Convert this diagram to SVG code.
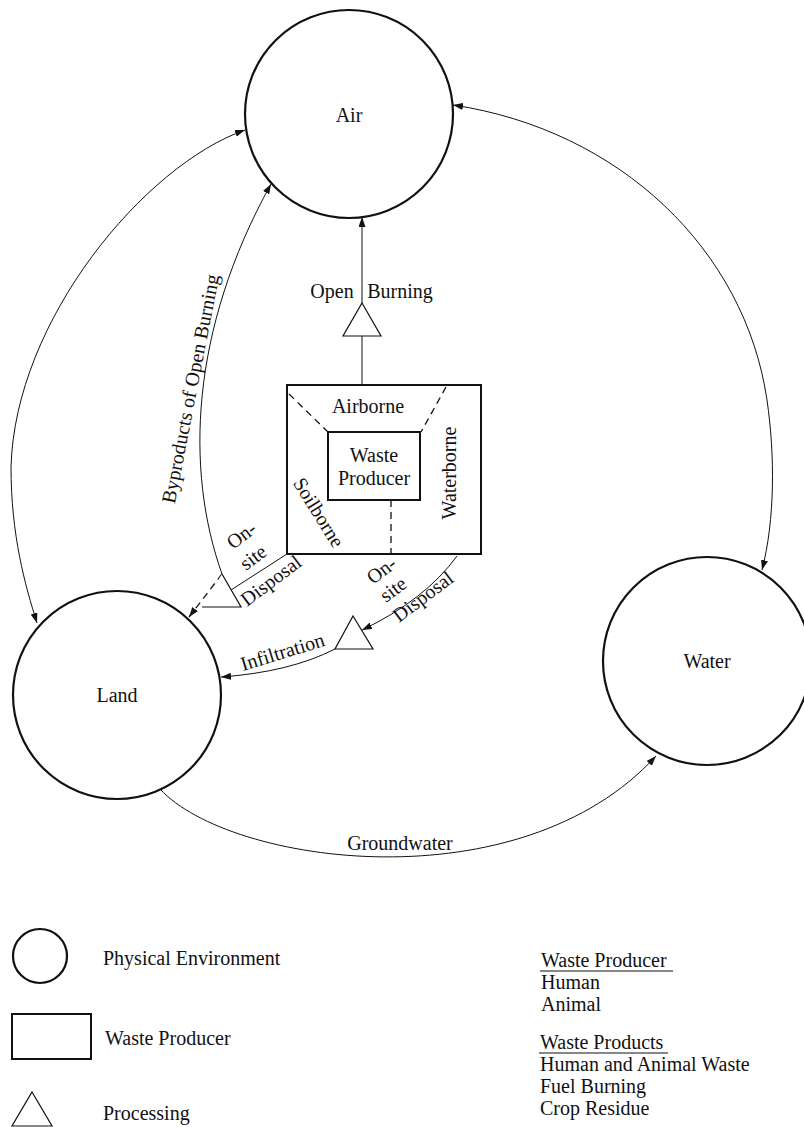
<svg xmlns="http://www.w3.org/2000/svg" width="804" height="1127" viewBox="0 0 804 1127">
<style>
text{font-family:"Liberation Serif","Times New Roman",serif;font-size:20px;fill:#111}
.env{fill:#fff;stroke:#111;stroke-width:2.2}
.box{fill:#fff;stroke:#111;stroke-width:2}
.tri{fill:#fff;stroke:#111;stroke-width:1.2}
.c{fill:none;stroke:#111;stroke-width:1}
.d{fill:none;stroke:#111;stroke-width:1.3;stroke-dasharray:7 5}
.m{text-anchor:middle}
</style>
<defs>
<marker id="ah" viewBox="0 0 10 7" refX="10" refY="3.5" markerWidth="10" markerHeight="7" markerUnits="userSpaceOnUse" orient="auto-start-reverse">
<path d="M0,0 L10,3.5 L0,7 z" fill="#111"/>
</marker>
</defs>

<g id="connectors">
<path class="c" d="M245,130 C145,165 15,320 11,467 C11,535 25,585 37,623" marker-start="url(#ah)" marker-end="url(#ah)"/>
<path class="c" d="M453,105 C620,130 745,250 767,400 C775,455 775,520 762,570" marker-start="url(#ah)" marker-end="url(#ah)"/>
<path class="c" d="M160,789 C230,865 520,905 656,756" marker-end="url(#ah)"/>
<path class="c" d="M222,574 C185,470 190,330 271,184" marker-end="url(#ah)"/>
<line class="c" x1="362" y1="303" x2="362" y2="217" marker-end="url(#ah)"/>
<line class="c" x1="362" y1="385" x2="362" y2="336"/>
<line class="c" x1="287" y1="554" x2="231" y2="590"/>
<path class="c" d="M457,556 Q425,600 362,630" marker-end="url(#ah)"/>
<path class="c" d="M335,649 Q290,672 221,677" marker-end="url(#ah)"/>
<line class="d" x1="222" y1="574" x2="189" y2="617" marker-end="url(#ah)"/>
</g>

<g id="air"><circle class="env" cx="349" cy="114" r="104"/><text class="m" x="349" y="122">Air</text></g>
<g id="land"><circle class="env" cx="117" cy="695" r="104"/><text class="m" x="117" y="702">Land</text></g>
<g id="water"><circle class="env" cx="707" cy="661" r="104"/><text class="m" x="707" y="668">Water</text></g>

<g id="producer">
<rect class="box" x="287" y="385" width="194" height="169"/>
<line class="d" x1="289" y1="394" x2="328" y2="432"/>
<line class="d" x1="446" y1="387" x2="421" y2="432"/>
<line class="d" x1="391" y1="500" x2="391" y2="554"/>
<rect class="box" x="328" y="432" width="92" height="68"/>
<text class="m" x="368" y="413">Airborne</text>
<text class="m" x="374" y="462">Waste</text>
<text class="m" x="374" y="485">Producer</text>
<text class="m" transform="translate(456,473) rotate(-90)">Waterborne</text>
<text class="m" transform="translate(313,516) rotate(58)">Soilborne</text>
</g>

<g id="open-burning">
<polygon class="tri" points="362,303 381,336 343,336"/>
<text class="m" x="332" y="298">Open</text>
<text class="m" x="400" y="298">Burning</text>
</g>

<g id="onsite-left">
<polyline class="tri" points="222,574 241,607 202,607"/>
<text transform="translate(233,550) rotate(-37)">On-</text>
<text transform="translate(246,571) rotate(-37)">site</text>
<text transform="translate(247,607) rotate(-37)">Disposal</text>
</g>

<g id="onsite-right">
<polygon class="tri" points="353,616 373,649 335,649"/>
<text transform="translate(373,585) rotate(-37)">On-</text>
<text transform="translate(386,603) rotate(-37)">site</text>
<text transform="translate(399,623) rotate(-37)">Disposal</text>
</g>

<g id="labels">
<text class="m" transform="translate(197,390) rotate(-79)">Byproducts of Open Burning</text>
<text transform="translate(243,671) rotate(-17)">Infiltration</text>
<text class="m" x="400" y="850">Groundwater</text>
</g>

<g id="legend-env"><circle class="env" cx="40" cy="956" r="27"/><text x="103" y="965">Physical Environment</text></g>
<g id="legend-producer"><rect class="box" x="12" y="1014" width="79" height="45"/><text x="105" y="1045">Waste Producer</text></g>
<g id="legend-processing"><polygon class="tri" points="32,1092 52,1126 12,1126"/><text x="103" y="1120">Processing</text></g>

<g id="legend-list">
<text x="541" y="967">Waste Producer</text>
<line x1="540" y1="971" x2="673" y2="971" stroke="#111" stroke-width="1.2"/>
<text x="541" y="989">Human</text>
<text x="541" y="1011">Animal</text>
<text x="540" y="1049">Waste Products</text>
<line x1="539" y1="1053" x2="668" y2="1053" stroke="#111" stroke-width="1.2"/>
<text x="540" y="1071">Human and Animal Waste</text>
<text x="540" y="1093">Fuel Burning</text>
<text x="540" y="1115">Crop Residue</text>
</g>
</svg>
